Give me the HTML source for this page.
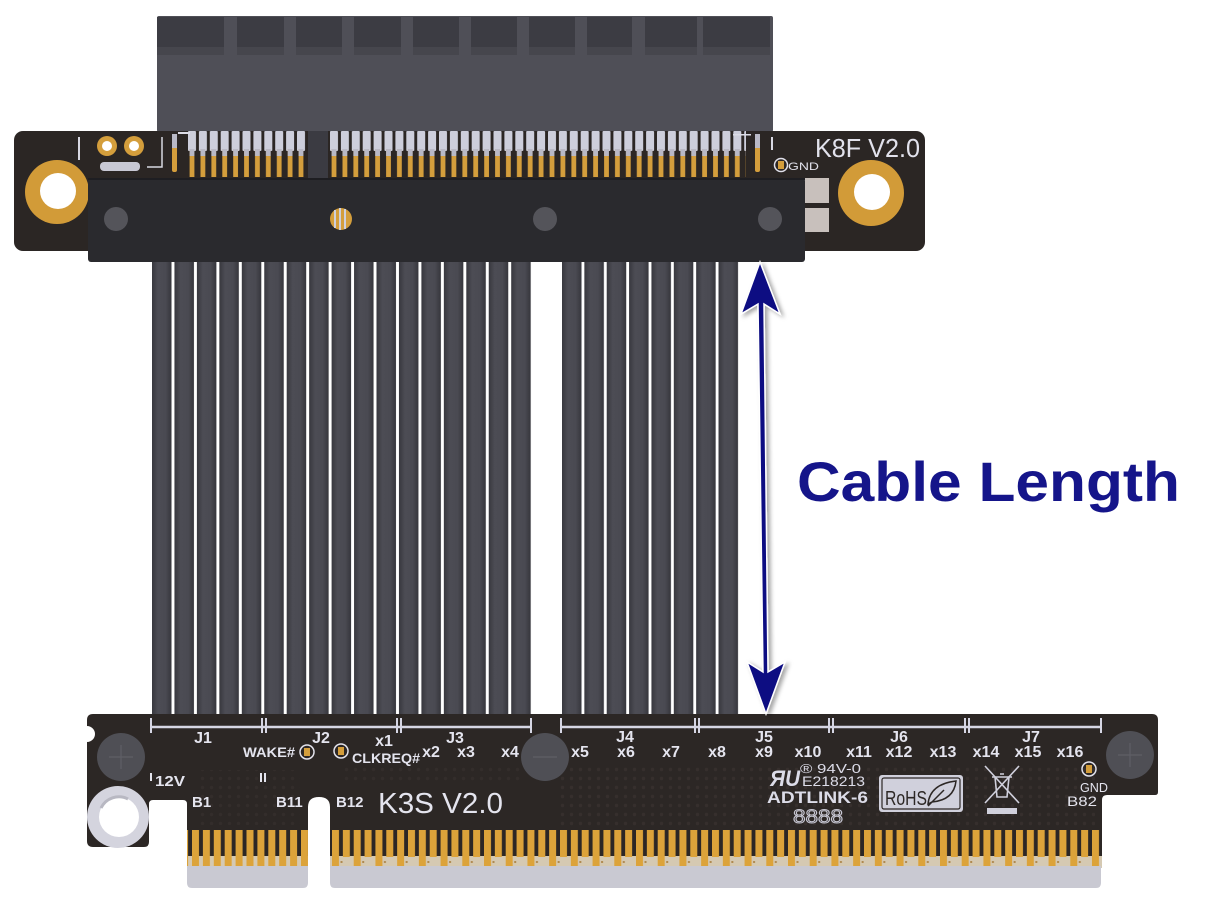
<!DOCTYPE html>
<html><head><meta charset="utf-8"><style>
html,body{margin:0;padding:0;background:#fff;}
svg{display:block;}
text{font-family:"Liberation Sans",Arial,sans-serif;}
</style></head><body>
<svg width="1208" height="902" viewBox="0 0 1208 902" xmlns="http://www.w3.org/2000/svg">
<defs>
  <linearGradient id="cableG" x1="0" y1="0" x2="1" y2="0">
    <stop offset="0" stop-color="#38383e"/>
    <stop offset="0.3" stop-color="#4c4c54"/>
    <stop offset="0.7" stop-color="#4a4a52"/>
    <stop offset="1" stop-color="#36363c"/>
  </linearGradient>
  <pattern id="cabL" x="152" y="0" width="22.45" height="902" patternUnits="userSpaceOnUse">
    <rect x="0" y="0" width="19.5" height="902" fill="url(#cableG)"/>
  </pattern>
  <pattern id="cabR" x="562" y="0" width="22.36" height="902" patternUnits="userSpaceOnUse">
    <rect x="0" y="0" width="19.5" height="902" fill="url(#cableG)"/>
  </pattern>
  <pattern id="pinsA" x="188" y="0" width="10.9" height="902" patternUnits="userSpaceOnUse">
    <rect x="0" y="131" width="8" height="20" rx="1" fill="#cdcedb"/>
    <rect x="1.6" y="149" width="4.8" height="28" fill="#d49e3c"/>
    <rect x="1.6" y="149" width="4.8" height="7" fill="#b9b9c6"/>
  </pattern>
  <pattern id="pinsB" x="330" y="0" width="10.9" height="902" patternUnits="userSpaceOnUse">
    <rect x="0" y="131" width="8" height="20" rx="1" fill="#cdcedb"/>
    <rect x="1.6" y="149" width="4.8" height="28" fill="#d49e3c"/>
    <rect x="1.6" y="149" width="4.8" height="7" fill="#b9b9c6"/>
  </pattern>
  <pattern id="fingA" x="192" y="0" width="10.9" height="902" patternUnits="userSpaceOnUse">
    <rect x="0" y="830" width="7" height="36" fill="#dca33a"/>
  </pattern>
  <pattern id="fingB" x="332" y="0" width="21.714" height="902" patternUnits="userSpaceOnUse">
    <rect x="0" y="830" width="7" height="36" fill="#dca33a"/>
    <rect x="10.857" y="830" width="7" height="27" fill="#dca33a"/>
    <rect x="8.5" y="861" width="2" height="2" fill="#b08a50"/>
  </pattern>
  <pattern id="dots" x="0" y="0" width="9" height="9" patternUnits="userSpaceOnUse">
    <circle cx="4.5" cy="4.5" r="1.7" fill="#3a3330"/>
  </pattern>
  <filter id="sh" x="-50%" y="-10%" width="200%" height="120%">
    <feDropShadow dx="3" dy="2" stdDeviation="2" flood-color="#000" flood-opacity="0.35"/>
  </filter>
</defs>

<rect width="1208" height="902" fill="#fff"/>

<!-- Top connector body -->
<rect x="157" y="16" width="616" height="116" rx="2" fill="#4f4f57"/>
<g fill="#3c3c43">
  <rect x="157" y="17" width="67" height="30"/>
  <rect x="237" y="17" width="47" height="30"/>
  <rect x="296" y="17" width="46" height="30"/>
  <rect x="354" y="17" width="47" height="30"/>
  <rect x="413" y="17" width="46" height="30"/>
  <rect x="471" y="17" width="46" height="30"/>
  <rect x="529" y="17" width="46" height="30"/>
  <rect x="587" y="17" width="45" height="30"/>
  <rect x="645" y="17" width="52" height="30"/>
  <rect x="703" y="17" width="67" height="30"/>
</g>
<g fill="#46464d">
  <rect x="157" y="47" width="67" height="8"/>
  <rect x="237" y="47" width="47" height="8"/>
  <rect x="296" y="47" width="46" height="8"/>
  <rect x="354" y="47" width="47" height="8"/>
  <rect x="413" y="47" width="46" height="8"/>
  <rect x="471" y="47" width="46" height="8"/>
  <rect x="529" y="47" width="46" height="8"/>
  <rect x="587" y="47" width="45" height="8"/>
  <rect x="645" y="47" width="52" height="8"/>
  <rect x="703" y="47" width="67" height="8"/>
</g>

<!-- Top PCB -->
<rect x="14" y="131" width="911" height="120" rx="9" fill="#2b2624"/>
<rect x="308" y="131" width="20" height="47" fill="#3b3b42"/>
<rect x="188" y="131" width="118" height="47" fill="url(#pinsA)"/>
<rect x="330" y="131" width="416" height="47" fill="url(#pinsB)"/>
<rect x="172" y="134" width="5" height="38" rx="2" fill="#d49e3c"/>
<rect x="172" y="134" width="5" height="14" fill="#b9b9c6"/>
<rect x="755" y="134" width="5" height="38" rx="2" fill="#d49e3c"/>
<rect x="755" y="134" width="5" height="14" fill="#b9b9c6"/>
<rect x="178" y="132" width="12" height="2" fill="#dcdce6"/>
<rect x="733" y="134" width="18" height="1.5" fill="#dcdce6"/>
<rect x="771" y="137" width="2" height="13" fill="#d8d8e2"/>

<!-- top-left markings -->
<rect x="78" y="137" width="2" height="23" fill="#d8d8e2"/>
<path d="M162,137 V167 H147" fill="none" stroke="#d8d8e2" stroke-width="1.5"/>
<rect x="100" y="162" width="40" height="9" rx="4" fill="#c8c8d4"/>
<circle cx="107" cy="146" r="10" fill="#d49e3c"/>
<circle cx="107" cy="146" r="5" fill="#fff"/>
<circle cx="134" cy="146" r="10" fill="#d49e3c"/>
<circle cx="134" cy="146" r="5" fill="#fff"/>

<!-- mounting holes -->
<circle cx="57" cy="192" r="32" fill="#d29b38"/>
<circle cx="58" cy="191" r="18" fill="#fff"/>
<circle cx="871" cy="193" r="33" fill="#d29b38"/>
<circle cx="872" cy="192" r="18" fill="#fff"/>

<!-- silver squares -->
<rect x="803" y="178" width="26" height="25" fill="#c8c0bc"/>
<rect x="803" y="208" width="26" height="24" fill="#c8c0bc"/>

<!-- K8F text -->
<text x="815" y="157" font-size="26" fill="#e2e2ec" textLength="105" lengthAdjust="spacingAndGlyphs">K8F  V2.0</text>
<circle cx="781" cy="165" r="6.5" fill="none" stroke="#e0e0ea" stroke-width="1.5"/>
<rect x="778" y="161" width="6" height="8" fill="#d49e3c"/>
<text x="788" y="170" font-size="11" fill="#e0e0ea" textLength="31" lengthAdjust="spacingAndGlyphs">GND</text>

<!-- cables -->
<rect x="152" y="255" width="380" height="462" fill="url(#cabL)"/>
<rect x="562" y="255" width="177" height="462" fill="url(#cabR)"/>

<!-- black bar -->
<rect x="88" y="178" width="717" height="84" rx="3" fill="#2a2a2e"/>
<rect x="88" y="178" width="717" height="2" fill="#1e1e22"/>
<circle cx="116" cy="219" r="12" fill="#54545a"/>
<circle cx="545" cy="219" r="12" fill="#54545a"/>
<circle cx="770" cy="219" r="12" fill="#54545a"/>
<circle cx="341" cy="219" r="11" fill="#d49e3c"/>
<g fill="#cfd0dc">
  <rect x="334" y="210" width="2" height="18"/>
  <rect x="339" y="208" width="2" height="22"/>
  <rect x="344" y="209" width="2" height="20"/>
</g>

<!-- Bottom PCB -->
<path d="M93,714 H1152 Q1158,714 1158,720 V792 Q1158,795 1155,795 H1107 Q1102,795 1102,800 V868 H330 V807 Q330,797 319,797 Q308,797 308,807 V868 H187 V804 Q187,800 183,800 H153 Q149,800 149,804 V842 Q149,847 144,847 H93 Q87,847 87,841 V742 A8 8 0 0 0 87,726 V720 Q87,714 93,714 Z" fill="#2c2725"/>
<rect x="560" y="765" width="535" height="62" fill="url(#dots)" opacity="0.7"/>
<rect x="200" y="770" width="100" height="55" fill="url(#dots)" opacity="0.5"/>
<rect x="340" y="765" width="180" height="20" fill="url(#dots)" opacity="0.5"/>

<!-- finger area -->
<rect x="187" y="856" width="121" height="12" fill="#d5c9b2"/>
<rect x="330" y="856" width="772" height="12" fill="#d5c9b2"/>
<path d="M187,866 H308 V883 Q308,888 303,888 H192 Q187,888 187,883 Z" fill="#c9c9d2"/>
<path d="M330,866 H1101 V883 Q1101,888 1096,888 H335 Q330,888 330,883 Z" fill="#c9c9d2"/>
<rect x="187" y="830" width="121" height="37" fill="url(#fingA)"/>
<rect x="330" y="830" width="770" height="37" fill="url(#fingB)"/>

<!-- left hole ring -->
<circle cx="118" cy="817" r="31" fill="#d4d4de"/>
<circle cx="119" cy="817" r="20" fill="#fff"/>
<path d="M101,808 A20 20 0 0 1 128,799" fill="none" stroke="#b8b8c2" stroke-width="3"/>

<!-- screws -->
<g>
  <circle cx="121" cy="757" r="24" fill="#4f4f55"/>
  <path d="M121,745 V769 M109,757 H133" stroke="#5f5f66" stroke-width="1.2"/>
  <circle cx="545" cy="757" r="24" fill="#4f4f55"/>
  <path d="M533,757 H557" stroke="#5f5f66" stroke-width="1.2"/>
  <circle cx="1130" cy="755" r="24" fill="#4f4f55"/>
  <path d="M1130,743 V767 M1118,755 H1142" stroke="#5f5f66" stroke-width="1.2"/>
</g>

<!-- ruler -->
<g stroke="#d6d6e4" fill="none">
  <path d="M150,727 H531 M560,727 H1100" stroke-width="2.5"/>
  <path d="M151,718 V733 M262,718 V733 M266,718 V733 M397,718 V733 M401,718 V733 M531,718 V733 M561,718 V733 M695,718 V733 M699,718 V733 M829,718 V733 M833,718 V733 M965,718 V733 M969,718 V733 M1101,718 V733" stroke-width="2"/>
</g>

<g fill="#e4e4ee" font-size="16" font-weight="bold">
  <text x="203" y="743" text-anchor="middle">J1</text>
  <text x="321" y="743" text-anchor="middle">J2</text>
  <text x="455" y="743" text-anchor="middle">J3</text>
  <text x="625" y="742" text-anchor="middle">J4</text>
  <text x="764" y="742" text-anchor="middle">J5</text>
  <text x="899" y="742" text-anchor="middle">J6</text>
  <text x="1031" y="742" text-anchor="middle">J7</text>
  <text x="384" y="746" text-anchor="middle">x1</text>
  <text x="431" y="757" text-anchor="middle">x2</text>
  <text x="466" y="757" text-anchor="middle">x3</text>
  <text x="510" y="757" text-anchor="middle">x4</text>
  <text x="580" y="757" text-anchor="middle">x5</text>
  <text x="626" y="757" text-anchor="middle">x6</text>
  <text x="671" y="757" text-anchor="middle">x7</text>
  <text x="717" y="757" text-anchor="middle">x8</text>
  <text x="764" y="757" text-anchor="middle">x9</text>
  <text x="808" y="757" text-anchor="middle">x10</text>
  <text x="859" y="757" text-anchor="middle">x11</text>
  <text x="899" y="757" text-anchor="middle">x12</text>
  <text x="943" y="757" text-anchor="middle">x13</text>
  <text x="986" y="757" text-anchor="middle">x14</text>
  <text x="1028" y="757" text-anchor="middle">x15</text>
  <text x="1070" y="757" text-anchor="middle">x16</text>
</g>

<g fill="#e4e4ee" font-weight="bold">
  <text x="243" y="757" font-size="14" textLength="52" lengthAdjust="spacingAndGlyphs">WAKE#</text>
  <text x="352" y="763" font-size="14" textLength="68" lengthAdjust="spacingAndGlyphs">CLKREQ#</text>
  <text x="155" y="786" font-size="15" textLength="30" lengthAdjust="spacingAndGlyphs">12V</text>
  <text x="192" y="807" font-size="15">B1</text>
  <text x="276" y="807" font-size="15">B11</text>
  <text x="336" y="807" font-size="15">B12</text>
  <text x="1080" y="792" font-size="13" font-weight="normal" textLength="28" lengthAdjust="spacingAndGlyphs">GND</text>
  <text x="1067" y="806" font-size="14" font-weight="normal" textLength="30" lengthAdjust="spacingAndGlyphs">B82</text>
</g>
<rect x="150" y="773" width="2" height="8" fill="#e4e4ee"/>
<rect x="260" y="773" width="2" height="9" fill="#e4e4ee"/>
<rect x="264" y="773" width="2" height="9" fill="#e4e4ee"/>

<!-- pads -->
<circle cx="307" cy="752" r="7" fill="none" stroke="#e4e4ee" stroke-width="1.5"/>
<rect x="304" y="748" width="6" height="8" fill="#d49e3c"/>
<circle cx="341" cy="751" r="7" fill="none" stroke="#e4e4ee" stroke-width="1.5"/>
<rect x="338" y="747" width="6" height="8" fill="#d49e3c"/>
<circle cx="1089" cy="769" r="7" fill="none" stroke="#e4e4ee" stroke-width="1.5"/>
<rect x="1086" y="765" width="6" height="8" fill="#d49e3c"/>

<text x="378" y="813" font-size="29" fill="#e4e4ee" textLength="125" lengthAdjust="spacingAndGlyphs">K3S  V2.0</text>

<!-- certification marks -->
<g fill="#dcdce8">
  <text x="770" y="786" font-size="22" font-weight="bold" font-style="italic" textLength="30" lengthAdjust="spacingAndGlyphs">ЯU</text>
  <text x="800" y="773" font-size="13" textLength="61" lengthAdjust="spacingAndGlyphs">® 94V-0</text>
  <text x="802" y="786" font-size="14" textLength="63" lengthAdjust="spacingAndGlyphs">E218213</text>
  <text x="767" y="803" font-size="17" font-weight="bold" textLength="101" lengthAdjust="spacingAndGlyphs">ADTLINK-6</text>
</g>
<text x="793" y="823" font-size="19" fill="none" stroke="#c8c8d4" stroke-width="1" textLength="50" lengthAdjust="spacingAndGlyphs">8888</text>

<rect x="879" y="775" width="84" height="37" rx="3" fill="#d0d0dc"/>
<rect x="882" y="778" width="78" height="31" rx="2" fill="none" stroke="#2c2725" stroke-width="1.2"/>
<text x="885" y="805" font-size="20" fill="#2c2725" textLength="42" lengthAdjust="spacingAndGlyphs">RoHS</text>
<path d="M928,804 Q930,784 956,781 Q954,800 932,802 Z M928,806 L944,790" fill="none" stroke="#2c2725" stroke-width="1.5"/>

<g stroke="#d0d0dc" stroke-width="1.6" fill="none">
  <path d="M992,777 H1012 M995,777 L997,797 H1007 L1009,777 M1000,774 H1004"/>
  <path d="M985,766 L1019,803 M1019,766 L985,803"/>
</g>
<rect x="987" y="808" width="30" height="6" fill="#d0d0dc"/>

<!-- arrow -->
<path d="M760,262 L780,314 L764,304 L768,672 L785,662 L766,714 L747,662 L763,672 L758,304 L741,314 Z" fill="#0c0c82" stroke="#ffffff" stroke-width="1.5" stroke-linejoin="miter" filter="url(#sh)"/>

<!-- label -->
<text x="797" y="501" font-size="56" font-weight="bold" fill="#15158a" textLength="383" lengthAdjust="spacingAndGlyphs">Cable Length</text>
</svg>
</body></html>
